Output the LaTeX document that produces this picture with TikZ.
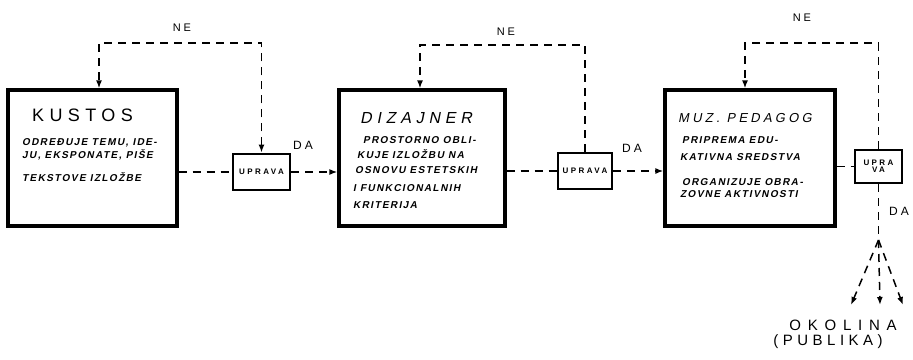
\documentclass[tikz,border=0pt]{standalone}
\usepackage{fontspec}
\usetikzlibrary{arrows.meta}
\newfontfamily\hand{Liberation Sans}
\newfontfamily\handit[FakeSlant=0.2]{Liberation Sans}
\newcommand\hfs[3]{#1\fontsize{#2}{#2}\selectfont\addfontfeatures{LetterSpace=#3}}
\begin{document}
\begin{tikzpicture}[x=1pt,y=-1pt,
  bigbox/.style={draw, line width=3.2pt, inner sep=0pt},
  smallbox/.style={draw, line width=2.8pt, inner sep=0pt, align=center,
    font=\hfs{\hand\bfseries}{8}{30}},
  flow/.style={line width=1.5pt, dash pattern=on 8pt off 6pt},
  tipd/.style={-{Latex[length=8pt,width=6pt]}},
  head/.style={anchor=base west, inner sep=0pt},
  body/.style={anchor=base west, inner sep=0pt, font=\hfs{\handit\bfseries}{10}{14}},
  lbl/.style={inner sep=0pt, font=\hfs{\hand}{11}{25}}
]
\useasboundingbox (0,0) rectangle (913,359);

% main boxes
\node[bigbox, minimum width=169pt, minimum height=136pt] (b1) at (92.5,158) {};
\node[bigbox, minimum width=166pt, minimum height=136pt] (b2) at (422,158) {};
\node[bigbox, minimum width=170pt, minimum height=136pt] (b3) at (750,158) {};

% small boxes
\node[smallbox, minimum width=57pt, minimum height=36pt] (a) at (261.5,172) {UPRAVA};
\node[smallbox, minimum width=54pt, minimum height=36pt] (b) at (585,171) {UPRAVA};
\node[smallbox, minimum width=47pt, minimum height=33pt] (c) at (878.5,166.5) {UPRA\\[-1pt]VA};

% box 1 text
\node[head, font=\hfs{\hand}{18}{30}] (k0) at (32,121) {KUSTOS};
\node[body] (k1) at (22,145) {ODREĐUJE TEMU, IDE-};
\node[body] (k2) at (22,158) {JU, EKSPONATE, PIŠE};
\node[body] (k3) at (22,181) {TEKSTOVE IZLOŽBE};

% box 2 text
\node[head, font=\hfs{\handit}{16}{30}] (d0) at (360,123.5) {DIZAJNER};
\node[body] (d1) at (363,143) {PROSTORNO OBLI-};
\node[body] (d2) at (357,158) {KUJE IZLOŽBU NA};
\node[body] (d3) at (355,173) {OSNOVU ESTETSKIH};
\node[body] (d4) at (353,191) {I FUNKCIONALNIH};
\node[body] (d5) at (353,208) {KRITERIJA};

% box 3 text
\node[head, font=\hfs{\handit}{13}{25}] (m0) at (678,122) {MUZ. PEDAGOG};
\node[body] (m1) at (682,143) {PRIPREMA EDU-};
\node[body] (m2) at (680,160) {KATIVNA SREDSTVA};
\node[body] (m3) at (682,185) {ORGANIZUJE OBRA-};
\node[body] (m4) at (680,197) {ZOVNE AKTIVNOSTI};

% main flow
\draw[flow] (a.west -| b1.east) -- (a.west);
\draw[flow, tipd] (a.east) -- (a.east -| b2.west);
\draw[flow] (b.west -| b2.east) -- (b.west);
\draw[flow, tipd] (b.east) -- (b.east -| b3.west);
\draw[flow] (c.west -| b3.east) -- (c.west);

% feedback loops
\coordinate (l1) at (99,43);
\coordinate (l2) at (420,45);
\coordinate (l3) at (745,43);
\draw[flow, {Latex[length=8pt,width=6pt]}-{Latex[length=8pt,width=6pt]}] (a.north) |- (l1) -- (l1 |- b1.north);
\draw[flow, tipd] (b.north) |- (l2) -- (l2 |- b2.north);
\draw[flow, tipd] (c.north) |- (l3) -- (l3 |- b3.north);

% labels
\node[lbl] (ne1) at (182,28) {NE};
\node[lbl] (ne2) at (506,32) {NE};
\node[lbl] (ne3) at (802,18) {NE};
\node[lbl, font=\hfs{\hand}{12}{25}] (da1) at (303,145) {DA};
\node[lbl, font=\hfs{\hand}{12}{25}] (da2) at (632,148) {DA};
\node[lbl, font=\hfs{\hand}{12}{25}] (da3) at (899,211) {DA};

% output to public
\coordinate (sp) at (c.south |- 0,240);
\coordinate (o1) at (851,305);
\coordinate (o2) at (880,305);
\coordinate (o3) at (903,305);
\draw[flow] (c.south) -- (sp);
\draw[flow, tipd] (sp) -- (o1);
\draw[flow, tipd] (sp) -- (o2);
\draw[flow, tipd] (sp) -- (o3);
\node[lbl, font=\hfs{\hand}{15}{45}] (ok) at (843,325) {OKOLINA};
\node[lbl, font=\hfs{\hand}{15}{30}] (pu) at (828,342) {(PUBLIKA)};
\end{tikzpicture}
\end{document}
